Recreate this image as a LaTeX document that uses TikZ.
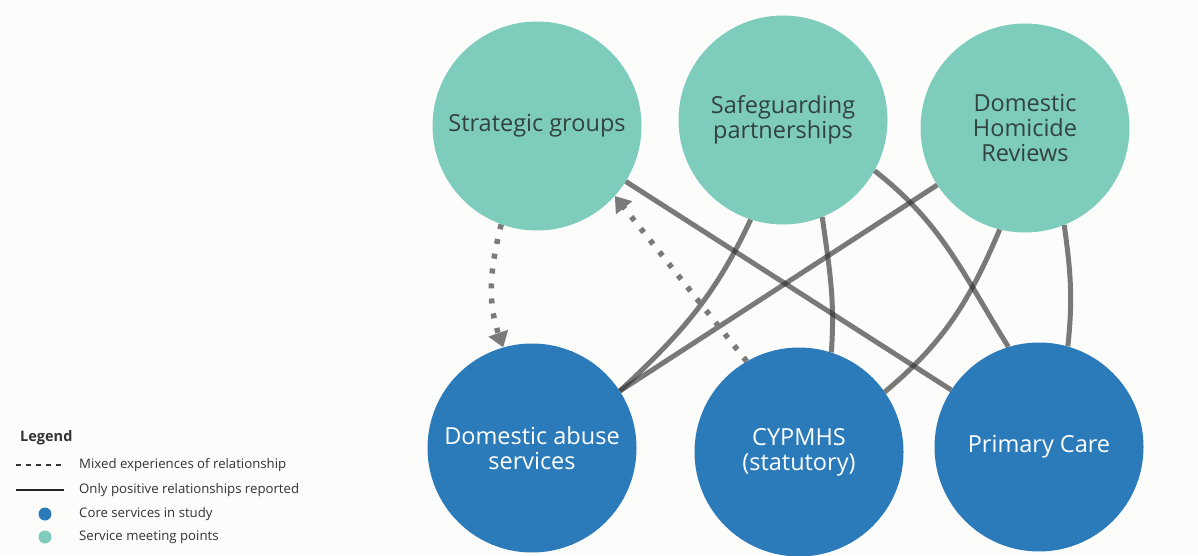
\documentclass[tikz,border=0pt]{standalone}
\usepackage{fontspec}
\setmainfont{Open Sans}
\usetikzlibrary{arrows.meta}
\definecolor{cbg}{HTML}{FCFCFA}
\definecolor{cteal}{HTML}{7ECDBC}
\definecolor{cblue}{HTML}{2B7BBA}
\definecolor{ctext}{HTML}{32423F}
\definecolor{clegend}{HTML}{333333}
\definecolor{cline}{HTML}{333333}
\definecolor{cdot}{HTML}{7A7A7A}
\begin{document}
\begin{tikzpicture}[x=1pt,y=1pt,
  meet/.style={circle,fill=cteal,minimum size=209pt,inner sep=0pt,text=ctext,
    font=\fontsize{23.5}{25}\selectfont,align=center},
  core/.style={circle,fill=cblue,minimum size=209pt,inner sep=0pt,text=white,
    font=\fontsize{23.5}{25}\selectfont,align=center},
  rel/.style={draw=cline,draw opacity=0.65,line width=5pt},
  mixed/.style={draw=cdot,line width=5.5pt,dash pattern=on 5pt off 10pt,
    -{Triangle[length=15pt,width=20pt]}},
  legtext/.style={anchor=west,font=\fontsize{13.2}{15}\selectfont,text=clegend,inner sep=0pt},
  legtitle/.style={anchor=west,font=\bfseries\fontsize{14.5}{16}\selectfont,text=clegend,inner sep=0pt}]
\fill[cbg] (0,0) rectangle (1198,555);
\useasboundingbox (0,0) rectangle (1198,555);

% nodes
\node[meet] (sg) at (537,429) {Strategic groups};
\node[meet] (sp) at (783,435) {Safeguarding\\partnerships};
\node[meet] (dhr) at (1025,427) {Domestic\\Homicide\\Reviews};
\node[core] (da) at (532,107) {Domestic abuse\\services};
\node[core] (cy) at (799,103) {CYPMHS\\(statutory)};
\node[core] (pc) at (1039,108) {Primary Care};

% positive relationships
\draw[rel] (sg.-32) -- (pc.147);
\draw[rel] (sp.-108) to[out=-115,in=43] (da.33);
\draw[rel] (sp.-68) to[out=-82,in=86] (cy.72);
\draw[rel] (sp.-29) to[out=-38,in=122] (pc.107);
\draw[rel] (dhr.-147) -- (da.33);
\draw[rel] (dhr.-104) to[out=-113,in=40] (cy.35);
\draw[rel] (dhr.-68) to[out=-82,in=84] (pc.74);

% mixed relationships
\draw[mixed] (sg.-110) to[out=-104,in=109] (da.106);
\draw[mixed] (cy.120) -- (sg.-42);

% legend
\node[legtitle] (lt) at (20,117) {Legend};
\node[legtext] (l1) at (79,90) {Mixed experiences of relationship};
\node[legtext] (l2) at (79,65) {Only positive relationships reported};
\node[legtext] (l3) at (79,41) {Core services in study};
\node[legtext] (l4) at (79,18) {Service meeting points};
\coordinate (d1a) at (16,90);
\coordinate (d1b) at (64,90);
\coordinate (d2a) at (16,65);
\coordinate (d2b) at (64,65);
\draw[draw=clegend,line width=1.3pt,dash pattern=on 5pt off 5pt] (d1a) -- (d1b);
\draw[draw=black!85,line width=1.3pt] (d2a) -- (d2b);
\fill[cblue] (45,41) circle (6.5);
\fill[cteal] (45,18) circle (6.5);
\end{tikzpicture}
\end{document}
